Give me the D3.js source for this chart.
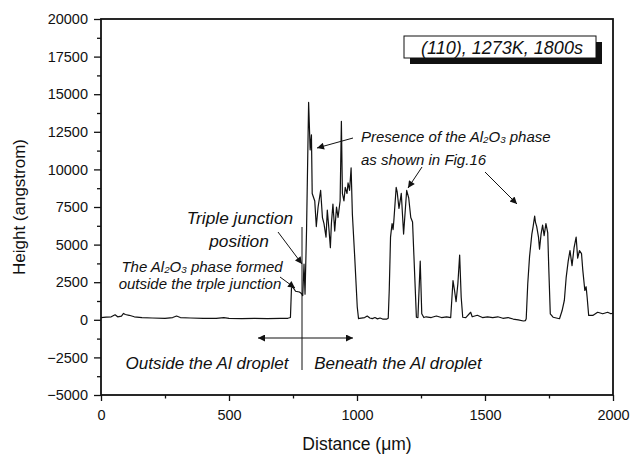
<!DOCTYPE html>
<html><head><meta charset="utf-8">
<script src="https://cdn.jsdelivr.net/npm/d3@7"></script>
<style>body{margin:0;background:#fff}svg{display:block}text{font-family:"Liberation Sans",Arial,sans-serif;fill:#111}</style>
</head><body>
<script>
// Distance (µm)
const distance = [0,20,40,55,65,80,88,95,110,130,160,200,250,280,295,310,350,400,450,480,500,550,600,650,700,730,740,
744,748,760,775,783,788,793,797,803,811,817,822,825,835,841,848,858,865,871,879,884,891,896,900,906,913,920,926,934,939,943,949,954,961,965,971,977,982,991,1001,1006,
1010,1030,1040,1050,1060,1070,1080,1090,1100,1115,1122,
1126,1131,1137,1141,1144,1153,1157,1164,1173,1182,1194,1202,1210,1217,1232,1238,1247,1253,1261,
1270,1290,1310,1330,1350,1366,1375,1381,1387,1394,1401,1407,1413,1425,1444,1450,1470,1490,1510,1530,1550,1570,1590,1610,1630,1650,1658,
1661,1667,1674,1683,1688,1694,1697,1702,1709,1713,1719,1725,1731,1738,1745,1749,1755,1766,1791,1801,1810,1817,1825,1832,1840,1848,1856,1862,1869,1877,1882,1890,1895,1899,1905,1921,1940,1960,1979,1992,2000];
// Height (angstrom)
const height = [150,180,200,330,200,250,420,350,300,200,150,120,100,150,250,150,120,100,90,150,100,80,100,80,90,100,150,
2100,2200,1900,1850,1750,1600,3700,1700,6000,14450,11300,12300,8400,7900,6200,7500,8600,6800,6400,5500,7300,5900,4800,6400,7700,5900,7500,6800,7900,13200,8400,7900,8800,8400,9100,8600,10100,7000,4200,850,80,
100,150,250,120,80,150,60,120,50,40,100,
2000,5500,6400,6000,6600,8800,8500,7400,8400,5700,8600,8100,6800,6500,170,150,3900,400,150,
200,150,250,150,200,150,2600,1950,1200,2400,4300,1500,170,150,500,200,300,150,200,150,200,100,150,50,0,-80,-50,
70,2400,4200,5700,6200,6900,6500,6200,5500,4700,5700,6300,5600,6400,5800,3500,400,170,70,600,1300,2800,3900,4600,3600,4800,5500,4100,4600,4400,3300,1950,2200,1500,290,290,500,400,500,400,450];

const xTicks = [0,500,1000,1500,2000];
const yTicks = [-5000,-2500,0,2500,5000,7500,10000,12500,15000,17500,20000];
const xMinor = [250,750,1250,1750];
const yMinor = [-3750,-1250,1250,3750,6250,8750,11250,13750,16250,18750];

const W=632,H=455;
const svg=d3.select("body").append("svg").attr("width",W).attr("height",H);
const x=d3.scaleLinear().domain([0,2000]).range([101,613]);
const y=d3.scaleLinear().domain([-5000,20000]).range([395,19]);

const defs=svg.append("defs");
defs.append("marker").attr("id","ah").attr("viewBox","0 0 10 10").attr("refX",10).attr("refY",5)
 .attr("markerWidth",9).attr("markerHeight",7).attr("markerUnits","userSpaceOnUse").attr("orient","auto-start-reverse")
 .append("path").attr("d","M0,0L10,5L0,10z").attr("fill","#111");

svg.append("g").attr("transform","translate(0,395)")
 .call(d3.axisBottom(x).tickValues(xTicks).tickSize(6).tickPadding(9).tickFormat(d3.format("d")));
svg.append("g").attr("transform","translate(0,395)")
 .call(d3.axisBottom(x).tickValues(xMinor).tickSize(3.5).tickFormat(""));
svg.append("g").attr("transform","translate(101,0)")
 .call(d3.axisLeft(y).tickValues(yTicks).tickSize(7).tickPadding(6).tickFormat(d3.format("d")));
svg.append("g").attr("transform","translate(101,0)")
 .call(d3.axisLeft(y).tickValues(yMinor).tickSize(4).tickFormat(""));
svg.selectAll(".domain").remove();
svg.selectAll(".tick line").attr("stroke","#111").attr("stroke-width",1.3);
svg.selectAll(".tick text").attr("font-size",14.5).attr("fill","#111").style("font-family","'Liberation Sans',Arial,sans-serif");

svg.append("rect").attr("x",101).attr("y",19).attr("width",512).attr("height",376)
 .attr("fill","none").attr("stroke","#111").attr("stroke-width",1.8);

const line=d3.line().x((d,i)=>x(distance[i])).y((d,i)=>y(height[i]));
svg.append("path").datum(height).attr("d",line).attr("fill","none").attr("stroke","#111").attr("stroke-width",1.2).attr("stroke-linejoin","round");

svg.append("text").attr("x",357).attr("y",450).attr("text-anchor","middle").attr("font-size",17.5)
 .text("Distance (\u03bcm)");
svg.append("text").attr("transform","translate(25,207) rotate(-90)").attr("text-anchor","middle").attr("font-size",17)
 .text("Height (angstrom)");

svg.append("rect").attr("x",410).attr("y",42).attr("width",192).attr("height",22).attr("fill","#111");
svg.append("rect").attr("x",404).attr("y",36).attr("width",192).attr("height",22).attr("fill","#fff").attr("stroke","#111").attr("stroke-width",1);
svg.append("text").attr("x",502).attr("y",53.5).attr("text-anchor","middle").attr("font-size",18).attr("font-style","italic")
 .text("(110), 1273K, 1800s");

function al2o3(x0, y0, size, pre, post, anchor){
  const tx=svg.append("text").attr("x",x0).attr("y",y0).attr("font-size",size).attr("font-style","italic").attr("text-anchor",anchor||"start");
  tx.append("tspan").text(pre+"Al");
  tx.append("tspan").attr("font-size",size*0.65).attr("dy",1).text("2");
  tx.append("tspan").attr("dy",-1).text("O");
  tx.append("tspan").attr("font-size",size*0.65).attr("dy",1).text("3");
  tx.append("tspan").attr("dy",-1).text(post);
}
al2o3(361,142,15,"Presence of the "," phase");
svg.append("text").attr("x",361).attr("y",165).attr("font-size",15).attr("font-style","italic").text("as shown in Fig.16");
svg.append("text").attr("x",240).attr("y",224).attr("text-anchor","middle").attr("font-size",17.3).attr("font-style","italic").text("Triple junction");
svg.append("text").attr("x",239).attr("y",247).attr("text-anchor","middle").attr("font-size",17.3).attr("font-style","italic").text("position");
al2o3(202,272,15,"The "," phase formed","middle");
svg.append("text").attr("x",200).attr("y",289).attr("text-anchor","middle").attr("font-size",15).attr("font-style","italic").text("outside the trple junction");
svg.append("text").attr("x",207).attr("y",369).attr("text-anchor","middle").attr("font-size",17).attr("font-style","italic").text("Outside the Al droplet");
svg.append("text").attr("x",398).attr("y",369).attr("text-anchor","middle").attr("font-size",17).attr("font-style","italic").text("Beneath the Al droplet");

const arrows=[[353,138,317,148],[422,167,408,188],[485,172,517,204],[278,232,302,264],[280,277,295,288]];
arrows.forEach(a=>svg.append("line").attr("x1",a[0]).attr("y1",a[1]).attr("x2",a[2]).attr("y2",a[3])
  .attr("stroke","#111").attr("stroke-width",1).attr("marker-end","url(#ah)"));
svg.append("line").attr("x1",302).attr("y1",338).attr("x2",258).attr("y2",338).attr("stroke","#111").attr("stroke-width",1).attr("marker-end","url(#ah)");
svg.append("line").attr("x1",302).attr("y1",338).attr("x2",353).attr("y2",338).attr("stroke","#111").attr("stroke-width",1).attr("marker-end","url(#ah)");
svg.append("line").attr("x1",302).attr("y1",227).attr("x2",302).attr("y2",370).attr("stroke","#111").attr("stroke-width",1);
</script>
</body></html>
